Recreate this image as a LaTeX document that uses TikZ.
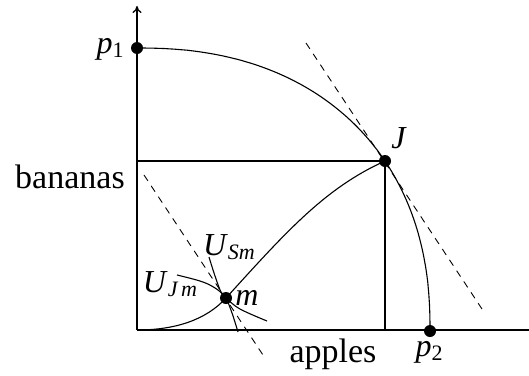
\documentclass[tikz,border=0pt]{standalone}
\usepackage{fontspec}
\setmainfont{Liberation Serif}
\usetikzlibrary{arrows.meta}
\newcommand\lowsub[1]{\raisebox{-0.3ex}{\fontsize{22}{25}\selectfont #1}}
\begin{document}
\begin{tikzpicture}[x=1pt,y=-1pt,
  curve/.style={line width=1.1pt},
  axis/.style={line width=1.3pt},
  dashline/.style={line width=0.9pt, dash pattern=on 7pt off 6pt},
  dot/.style={circle, fill=black, inner sep=0pt, minimum size=12pt},
  word/.style={font=\fontsize{34}{40}\selectfont, inner sep=0pt},
  sym/.style={font=\fontsize{32}{38}\selectfont, inner sep=0pt}]
\useasboundingbox (0,0) rectangle (529,375);
% axes
\coordinate (O) at (137,330);
\coordinate (ytop) at (137,6);
\coordinate (xend) at (529,330);
\draw[axis,-{To[length=7pt,width=9pt]}] (O) -- (ytop);
\draw[axis] (O) -- (xend);
% points
\coordinate (Jy) at (137,161);
\coordinate (Jx) at (385,330);
\node[dot] (p1) at (137,48) {};
\node[dot] (J) at (385,161) {};
\node[dot] (p2) at (430,331) {};
\node[dot] (m) at (226,298) {};
% guide lines to J
\draw[curve] (Jy) -- (J.center) -- (Jx);
% production possibility frontier (superellipse)
\draw[curve] (p2.center) -- plot[domain=0.05:89.95, samples=120, smooth, variable=\t]
  ({137+293*pow(cos(\t),0.885)}, {330-282*pow(sin(\t),0.885)}) -- (p1.center);
% contract curve
\draw[curve] (O) .. controls (175,330) and (206,320) .. (m.center)
  .. controls (286,232) and (325,188) .. (J.center);
% indifference curves
\draw[curve] plot[smooth, tension=0.6] coordinates
  {(177,275) (203,282) (218,290) (m.center) (240,309) (267,321)};
\draw[curve] plot[smooth, tension=0.6] coordinates
  {(209,257) (215,276) (221,292) (m.center) (232,313) (238,332)};
% tangent (price) lines
\coordinate (d1a) at (306,43);
\coordinate (d1b) at (482,309);
\coordinate (d2a) at (144,175);
\coordinate (d2b) at (263,355);
\draw[dashline] (d1a) -- (d1b);
\draw[dashline] (d2a) -- (d2b);
% labels
\node[sym] (lp1) at (110,49) {\textit{p}\lowsub{1}};
\node[sym] (lJ) at (399,138) {\textit{J}};
\node[sym] (lp2) at (429,352) {\textit{p}\lowsub{2}};
\node[sym] (lm) at (247,298) {\textit{m}};
\node[sym] (lUJ) at (170,284) {\textit{U}\lowsub{\textit{J\,m}}};
\node[sym] (lUS) at (229,247) {\textit{U}\lowsub{\textit{Sm}}};
\node[word, anchor=base] (lb) at (70,188) {bananas};
\node[word, anchor=base] (la) at (333,362) {apples};
\end{tikzpicture}
\end{document}
